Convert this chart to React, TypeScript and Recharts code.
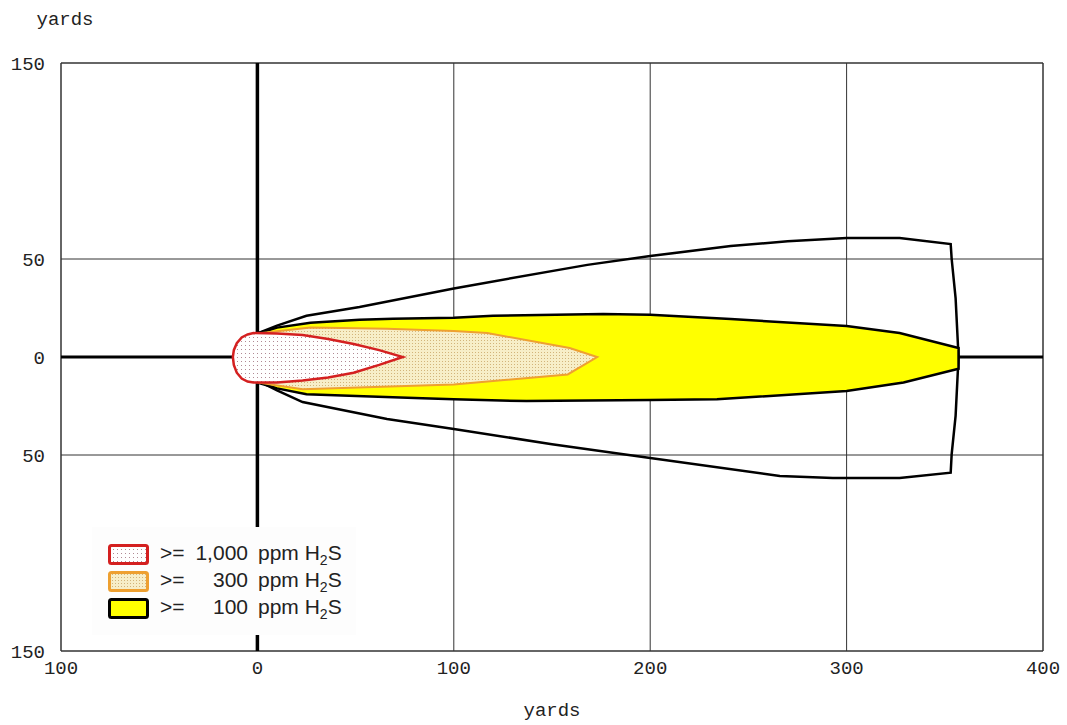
import React from 'react';
import { ScatterChart, Scatter, XAxis, YAxis, ReferenceLine } from 'recharts';

type Pt = { x: number; y: number };

const xTicks = [-100, 0, 100, 200, 300, 400];
const yTicks = [-150, -50, 0, 50, 150];
const gridX = [100, 200, 300];
const gridY = [50, -50];

// outer black envelope (no fill)
const envelope: Pt[] = [
  { x: 0, y: 12 }, { x: 10, y: 16 }, { x: 25, y: 21 }, { x: 52, y: 25.5 }, { x: 100, y: 35 },
  { x: 168, y: 47 }, { x: 200, y: 51.5 }, { x: 241, y: 56.6 }, { x: 270, y: 59 }, { x: 300, y: 60.7 },
  { x: 327, y: 60.7 }, { x: 353, y: 57.6 }, { x: 353.5, y: 50 }, { x: 355.5, y: 30 }, { x: 357, y: 0 },
  { x: 355.5, y: -30 }, { x: 353.5, y: -49.5 }, { x: 353, y: -59 }, { x: 327, y: -61.7 }, { x: 293, y: -61.7 },
  { x: 266, y: -60.7 }, { x: 200, y: -51.5 }, { x: 150, y: -44.5 }, { x: 100, y: -36.7 }, { x: 66, y: -31.6 },
  { x: 23, y: -23 }, { x: 10, y: -17 }, { x: 0, y: -12 },
];

// >= 100 ppm
const zone100: Pt[] = [
  { x: 0, y: 12 }, { x: 10, y: 15 }, { x: 27, y: 17.5 }, { x: 52, y: 19 }, { x: 69, y: 19.5 },
  { x: 100, y: 20 }, { x: 120, y: 21 }, { x: 176, y: 22 }, { x: 200, y: 21.5 }, { x: 241, y: 19.4 },
  { x: 300, y: 15.8 }, { x: 327, y: 12.2 }, { x: 357, y: 4.6 }, { x: 357, y: -6 }, { x: 329, y: -13 },
  { x: 300, y: -17.3 }, { x: 234, y: -21.6 }, { x: 200, y: -22 }, { x: 137, y: -22.5 }, { x: 100, y: -21.6 },
  { x: 84, y: -21 }, { x: 54, y: -20 }, { x: 25, y: -19 }, { x: 10, y: -16 }, { x: 0, y: -13 },
];

// >= 300 ppm
const zone300: Pt[] = [
  { x: 0, y: 12 }, { x: 27, y: 15 }, { x: 66, y: 14.4 }, { x: 100, y: 13.3 }, { x: 117, y: 12.2 },
  { x: 159, y: 4.6 }, { x: 173, y: 0 }, { x: 158, y: -8.9 }, { x: 100, y: -14 }, { x: 23, y: -16.5 },
  { x: 0, y: -13 },
];

// >= 1,000 ppm
const zone1000: Pt[] = [
  { x: -2, y: 12.2 }, { x: 10, y: 12 }, { x: 23, y: 11.2 }, { x: 36, y: 9.2 }, { x: 49, y: 6.6 },
  { x: 62, y: 3.5 }, { x: 74, y: 0 }, { x: 62, y: -4 }, { x: 49, y: -8 }, { x: 36, y: -10.5 },
  { x: 23, y: -12 }, { x: 10, y: -13 }, { x: -2, y: -13 }, { x: -5, y: -12.5 }, { x: -8, y: -11 },
  { x: -10.5, y: -8 }, { x: -12, y: -4 }, { x: -12.5, y: 0 }, { x: -12, y: 3.5 }, { x: -10.5, y: 7 },
  { x: -8, y: 10 }, { x: -5, y: 11.5 },
];

const legendLevels = ['1,000', '300', '100'];
const legendStroke = ['#d42020', '#eea030', '#000000'];
const legendFill = ['url(#lgRed)', 'url(#lgOrange)', '#ffff00'];

const mono = '"Liberation Mono", "DejaVu Sans Mono", monospace';
const sans = '"Liberation Sans", Arial, sans-serif';
const noShape = () => <g />;
const absLabel = (v: number) => String(Math.abs(v));

const Patterns = ({ prefix }: { prefix: string }) => (
  <defs>
    <pattern id={prefix + 'Red'} width="4" height="4" patternUnits="userSpaceOnUse">
      <rect width="4" height="4" fill="#ffffff" />
      <rect x="1" y="1" width="1" height="1" fill="#b08a94" />
    </pattern>
    <pattern id={prefix + 'Orange'} width="3" height="3" patternUnits="userSpaceOnUse">
      <rect width="3" height="3" fill="#f7eec8" />
      <rect x="1" y="1" width="1" height="1" fill="#d2b47a" />
    </pattern>
  </defs>
);

export default function App() {
  return (
    <div style={{ position: 'absolute', left: 0, top: 0, width: 1067, height: 725, background: '#fff' }}>
      <ScatterChart width={1067} height={725} margin={{ top: 63, right: 24, bottom: 44, left: 6 }}>
        <Patterns prefix="pt" />
        <XAxis
          type="number"
          dataKey="x"
          domain={[-100, 400]}
          ticks={xTicks}
          tickFormatter={absLabel}
          axisLine={false}
          tickLine={false}
          tickSize={0}
          tickMargin={10}
          height={30}
          tick={{ fontFamily: mono, fontSize: 19, fill: '#222' }}
        />
        <YAxis
          type="number"
          dataKey="y"
          domain={[-150, 150]}
          ticks={yTicks}
          tickFormatter={absLabel}
          axisLine={false}
          tickLine={false}
          tickSize={0}
          tickMargin={16}
          width={55}
          tick={{ fontFamily: mono, fontSize: 19, fill: '#222' }}
        />
        <Scatter
          data={envelope}
          shape={noShape}
          line={{ stroke: '#000', strokeWidth: 2.5, fill: 'none' }}
          lineJointType="linearClosed"
          isAnimationActive={false}
        />
        <Scatter
          data={zone100}
          shape={noShape}
          line={{ stroke: '#000', strokeWidth: 2.5, fill: '#ffff00' }}
          lineJointType="linearClosed"
          isAnimationActive={false}
        />
        <Scatter
          data={zone300}
          shape={noShape}
          line={{ stroke: '#eea030', strokeWidth: 2, fill: 'url(#ptOrange)' }}
          lineJointType="linearClosed"
          isAnimationActive={false}
        />
        <Scatter
          data={zone1000}
          shape={noShape}
          line={{ stroke: '#d42020', strokeWidth: 2.5, fill: 'url(#ptRed)' }}
          lineJointType="linearClosed"
          isAnimationActive={false}
        />
        {gridX.map((v) => (
          <ReferenceLine key={'gx' + v} x={v} stroke="#333" strokeWidth={1} />
        ))}
        {gridY.map((v) => (
          <ReferenceLine key={'gy' + v} y={v} stroke="#333" strokeWidth={1} />
        ))}
        <ReferenceLine x={-100} stroke="#333" strokeWidth={1.5} />
        <ReferenceLine x={400} stroke="#333" strokeWidth={1.5} />
        <ReferenceLine y={150} stroke="#333" strokeWidth={1.5} />
        <ReferenceLine y={-150} stroke="#333" strokeWidth={1.5} />
        <ReferenceLine y={0} stroke="#000" strokeWidth={3} />
        <ReferenceLine x={0} stroke="#000" strokeWidth={3.5} />
      </ScatterChart>

      <svg
        width={1067}
        height={725}
        style={{ position: 'absolute', left: 0, top: 0, pointerEvents: 'none' }}
      >
        <Patterns prefix="lg" />
        <text x={65} y={25} textAnchor="middle" fontFamily={mono} fontSize={19} fill="#222">
          yards
        </text>
        <text x={552} y={716} textAnchor="middle" fontFamily={mono} fontSize={19} fill="#222">
          yards
        </text>
        <rect x={92} y={527} width={264} height={108} fill="#fdfdfd" />
        {legendLevels.map((lvl, i) => {
          const top = 544 + i * 27;
          const base = top + 16;
          return (
            <g key={lvl}>
              <rect
                x={109.5}
                y={top + 1.5}
                width={38}
                height={18}
                rx={2}
                fill={legendFill[i]}
                stroke={legendStroke[i]}
                strokeWidth={3}
              />
              <text x={160} y={base} fontFamily={sans} fontSize={21} fill="#222">
                {'>='}
              </text>
              <text x={248} y={base} textAnchor="end" fontFamily={sans} fontSize={21} fill="#222">
                {lvl}
              </text>
              <text x={258} y={base} fontFamily={sans} fontSize={21} fill="#222">
                ppm H
                <tspan fontSize={14} dy={5}>
                  2
                </tspan>
                <tspan dy={-5}>S</tspan>
              </text>
            </g>
          );
        })}
      </svg>
    </div>
  );
}
